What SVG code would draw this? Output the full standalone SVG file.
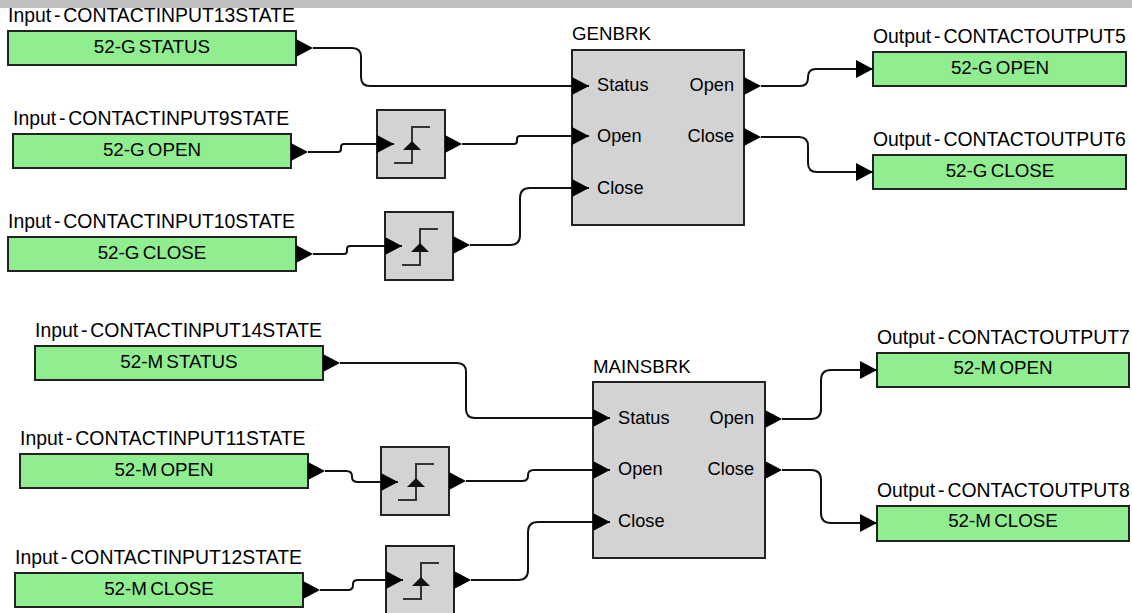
<svg xmlns="http://www.w3.org/2000/svg" width="1132" height="613" viewBox="0 0 1132 613">
<style>
text{font-family:"Liberation Sans",Arial,sans-serif;font-size:18.2px;fill:#000;word-spacing:-3px}
.t{font-size:19.4px;word-spacing:-2.5px}
.n{font-size:18.7px}
.b{font-size:18.8px;text-anchor:middle;word-spacing:-2px}
.r{text-anchor:end}
.io{fill:#90ee90;stroke:#222;stroke-width:2}
.blk{fill:#d3d3d3;stroke:#222;stroke-width:2}
.w{fill:none;stroke:#111;stroke-width:2;marker-start:url(#tri);marker-end:url(#tri)}
.st{fill:none;stroke:#333;stroke-width:2}
</style>
<defs>
<marker id="tri" markerUnits="userSpaceOnUse" markerWidth="17" markerHeight="18" refX="17" refY="9" orient="auto"><path d="M0 0L17 9L0 18Z" fill="#000"/></marker>
<g id="stepg"><rect class="blk" width="68" height="68"/><path class="st" d="M17 53H35V17H53"/><path d="M35 31L26 40H44Z" fill="#111"/></g>
</defs>
<rect width="1132" height="8" fill="#c0c0c0"/>
<g id="in13"><text class="t" x="8" y="22">Input - CONTACTINPUT13STATE</text><rect class="io" x="8" y="31" width="288" height="34"/><text class="b" x="152" y="53">52-G STATUS</text></g>
<g id="in9"><text class="t" x="13" y="125">Input - CONTACTINPUT9STATE</text><rect class="io" x="13" y="134" width="278" height="34"/><text class="b" x="152" y="156">52-G OPEN</text></g>
<g id="in10"><text class="t" x="8" y="228">Input - CONTACTINPUT10STATE</text><rect class="io" x="8" y="237" width="288" height="34"/><text class="b" x="152" y="259">52-G CLOSE</text></g>
<g id="step1"><use href="#stepg" x="377" y="110"/></g>
<g id="step2"><use href="#stepg" x="385" y="212"/></g>
<g id="genbrk"><text class="n" x="572" y="40">GENBRK</text><rect class="blk" x="572" y="50" width="172" height="175"/>
<text x="597" y="91">Status</text><text x="597" y="142">Open</text><text x="597" y="194">Close</text><text class="r" x="734" y="91">Open</text><text class="r" x="734" y="142">Close</text></g>
<g id="out5"><text class="t" x="873" y="43">Output - CONTACTOUTPUT5</text><rect class="io" x="873" y="52" width="253" height="34"/><text class="b" x="1000" y="74">52-G OPEN</text></g>
<g id="out6"><text class="t" x="873" y="146">Output - CONTACTOUTPUT6</text><rect class="io" x="873" y="155" width="253" height="34"/><text class="b" x="1000" y="177">52-G CLOSE</text></g>
<g id="in14"><text class="t" x="35" y="337">Input - CONTACTINPUT14STATE</text><rect class="io" x="35" y="346" width="288" height="34"/><text class="b" x="179" y="368">52-M STATUS</text></g>
<g id="in11"><text class="t" x="20" y="445">Input - CONTACTINPUT11STATE</text><rect class="io" x="20" y="454" width="288" height="34"/><text class="b" x="164" y="476">52-M OPEN</text></g>
<g id="in12"><text class="t" x="15" y="564">Input - CONTACTINPUT12STATE</text><rect class="io" x="15" y="573" width="288" height="34"/><text class="b" x="159" y="595">52-M CLOSE</text></g>
<g id="step3"><use href="#stepg" x="381" y="447"/></g>
<g id="step4"><use href="#stepg" x="386" y="546"/></g>
<g id="mainsbrk"><text class="n" x="593" y="373">MAINSBRK</text><rect class="blk" x="593" y="382" width="172" height="176"/>
<text x="618" y="424">Status</text><text x="618" y="475">Open</text><text x="618" y="527">Close</text><text class="r" x="754" y="424">Open</text><text class="r" x="754" y="475">Close</text></g>
<g id="out7"><text class="t" x="877" y="344">Output - CONTACTOUTPUT7</text><rect class="io" x="877" y="353" width="252" height="34"/><text class="b" x="1003" y="374">52-M OPEN</text></g>
<g id="out8"><text class="t" x="877" y="497">Output - CONTACTOUTPUT8</text><rect class="io" x="877" y="506" width="252" height="35"/><text class="b" x="1003" y="527">52-M CLOSE</text></g>
<g id="connectors">
<path class="w" d="M313 48H352Q361 48 361 57V77Q361 86 370 86H589"/>
<path class="w" d="M308 152H338Q341 152 341 149V147Q341 144 344 144H394"/>
<path class="w" d="M462 144H514Q517 144 517 141V139Q517 136 520 136H589"/>
<path class="w" d="M313 254H344Q347 254 347 251V249Q347 246 350 246H402"/>
<path class="w" d="M470 245H510Q520 245 520 235V198Q520 188 530 188H589"/>
<path class="w" d="M761 86H800Q808 86 808 78V77Q808 69 816 69H873"/>
<path class="w" d="M761 137H799Q808 137 808 146V163Q808 172 817 172H873"/>
<path class="w" d="M340 363H457Q466 363 466 372V409Q466 418 475 418H610"/>
<path class="w" d="M325 471H346Q352 471 352 476V477Q352 482 358 482H398"/>
<path class="w" d="M466 481H522Q528 481 528 476V475Q528 470 534 470H610"/>
<path class="w" d="M320 590H348Q353 590 353 585V584Q353 580 358 580H403"/>
<path class="w" d="M471 580H518Q528 580 528 570V532Q528 522 538 522H610"/>
<path class="w" d="M782 419H811Q821 419 821 409V380Q821 370 831 370H877"/>
<path class="w" d="M782 470H811Q821 470 821 480V513Q821 523 831 523H877"/>
</g>
</svg>
